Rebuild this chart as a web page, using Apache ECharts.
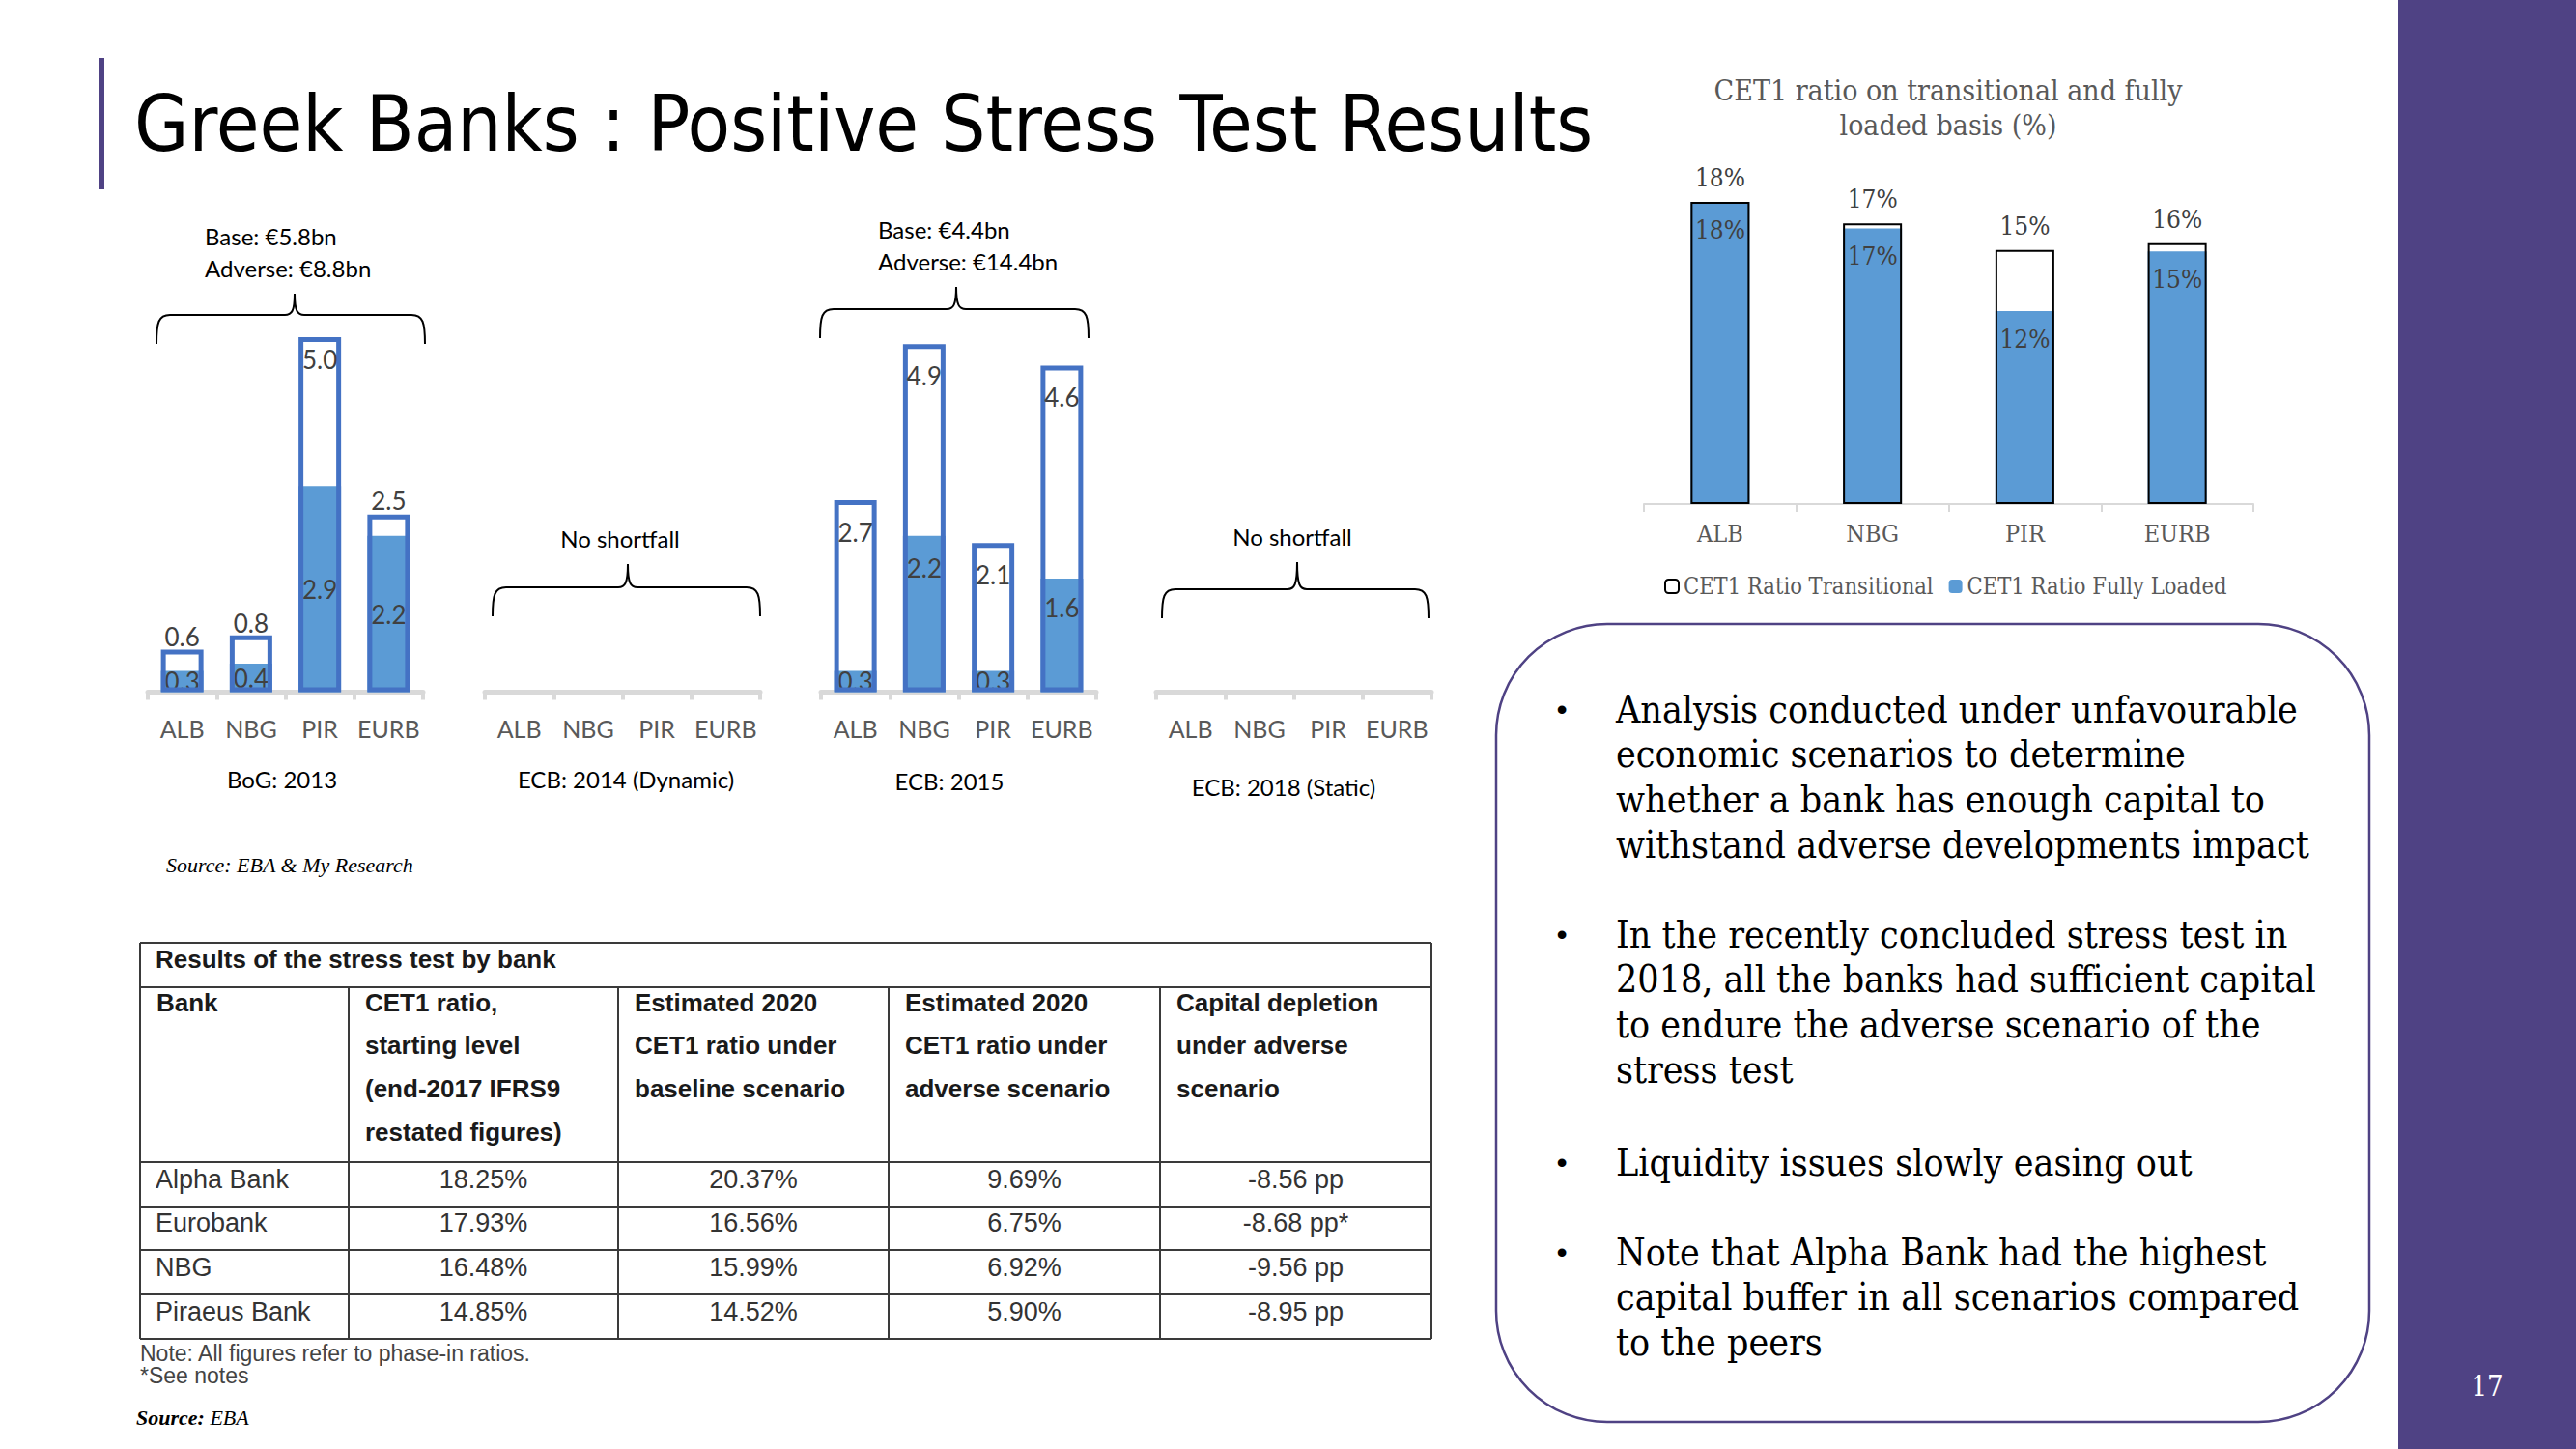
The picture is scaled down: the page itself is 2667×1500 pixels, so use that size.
<!DOCTYPE html>
<html><head><meta charset="utf-8">
<script src="https://cdn.jsdelivr.net/npm/echarts@6/dist/echarts.min.js"></script>
<style>html,body{margin:0;padding:0;background:#fff}#c{width:2667px;height:1500px}</style>
</head><body><div id="c"></div>
<script>
// ---------------- DATA ----------------
const banks = ['ALB', 'NBG', 'PIR', 'EURB'];
const bog2013Base = [0.3, 0.4, 2.9, 2.2];
const bog2013Adverse = [0.6, 0.8, 5.0, 2.5];
const ecb2015Base = [0.3, 2.2, 0.3, 1.6];
const ecb2015Adverse = [2.7, 4.9, 2.1, 4.6];
const panelTitles = ['BoG: 2013', 'ECB: 2014 (Dynamic)', 'ECB: 2015', 'ECB: 2018 (Static)'];
const shortfallNotes = [['Base: €5.8bn', 'Adverse: €8.8bn'], ['No shortfall'], ['Base: €4.4bn', 'Adverse: €14.4bn'], ['No shortfall']];
const cet1Transitional = [18.3, 17.0, 15.4, 15.8];
const cet1FullyLoaded = [18.3, 16.7, 11.7, 15.3];
const cet1Title = ['CET1 ratio on transitional and fully', 'loaded basis (%)'];
const seriesNames = ['CET1 Ratio Transitional', 'CET1 Ratio Fully Loaded'];
const slideTitle = 'Greek Banks : Positive Stress Test Results';
const tableTitle = 'Results of the stress test by bank';
const tableHeaders = [
  ['Bank'],
  ['CET1 ratio,', 'starting level', '(end-2017 IFRS9', 'restated figures)'],
  ['Estimated 2020', 'CET1 ratio under', 'baseline scenario'],
  ['Estimated 2020', 'CET1 ratio under', 'adverse scenario'],
  ['Capital depletion', 'under adverse', 'scenario']
];
const tableBanks = ['Alpha Bank', 'Eurobank', 'NBG', 'Piraeus Bank'];
const cet1Start = ['18.25%', '17.93%', '16.48%', '14.85%'];
const cet1Baseline2020 = ['20.37%', '16.56%', '15.99%', '14.52%'];
const cet1Adverse2020 = ['9.69%', '6.75%', '6.92%', '5.90%'];
const capitalDepletion = ['-8.56 pp', '-8.68 pp*', '-9.56 pp', '-8.95 pp'];
const tableNotes = ['Note: All figures refer to phase-in ratios.', '*See notes'];
const bullets = [
  ['Analysis conducted under unfavourable', 'economic scenarios to determine', 'whether a bank has enough capital to', 'withstand adverse developments impact'],
  ['In the recently concluded stress test in', '2018, all the banks had sufficient capital', 'to endure the adverse scenario of the', 'stress test'],
  ['Liquidity issues slowly easing out'],
  ['Note that Alpha Bank had the highest', 'capital buffer in all scenarios compared', 'to the peers']
];
const pageNumber = '17';

// ---------------- STYLE / LAYOUT ----------------
const F_CAL = "Lato, 'Open Sans', sans-serif";
const F_ROCK = "'DejaVu Serif Condensed', 'DejaVu Serif', serif";
const F_ARIAL = "'Liberation Sans', Arial, sans-serif";
const F_TIMES = "'Liberation Serif', 'Times New Roman', serif";
const F_TITLE = "'Liberation Sans Narrow', 'DejaVu Sans Condensed', 'Liberation Sans', sans-serif";
const PURPLE = '#4f4284';
const BLUE_FILL = '#5b9bd5';
const BLUE_LINE = '#4472c4';
const AXIS_GREY = '#d9d9d9';

const panelLeft = [153, 502, 850, 1197];
const panelWidth = 285;
const panelTop = 275.5, panelHeight = 441;

const chart = echarts.init(document.getElementById('c'), null, {renderer: 'svg', width: 2667, height: 1500});

function txt(text, x, y, o) {
  o = o || {};
  return {
    type: 'text', x: x, y: y, silent: true, z: o.z || 10,
    style: {
      text: text,
      fontSize: o.size || 24,
      fontFamily: o.family || F_CAL,
      fontWeight: o.weight || 'normal',
      fontStyle: o.style || 'normal',
      fill: o.color || '#000',
      align: o.align || 'left', textAlign: o.align || 'left',
      verticalAlign: o.va || 'middle', textVerticalAlign: o.va || 'middle',
      rich: o.rich
    }
  };
}
function line(x1, y1, x2, y2, color, w) {
  return {type: 'line', silent: true, z: 5, shape: {x1, y1, x2, y2}, style: {stroke: color, lineWidth: w}};
}
function curve(x1, y1, c1x, c1y, c2x, c2y, x2, y2) {
  return {type: 'bezierCurve', silent: true, z: 5, shape: {x1, y1, x2, y2, cpx1: c1x, cpy1: c1y, cpx2: c2x, cpy2: c2y}, style: {fill: 'none', stroke: '#000', lineWidth: 2}};
}
function brace(x1, x2, y, yEnd, xm, yTip) {
  return [
    curve(x1, yEnd, x1, y + 8, x1 + 2, y, x1 + 14, y),
    line(x1 + 14, y, xm - 10, y, '#000', 2),
    curve(xm - 10, y, xm - 3, y, xm, y - 4, xm, yTip),
    curve(xm, yTip, xm, y - 4, xm + 3, y, xm + 10, y),
    line(xm + 10, y, x2 - 14, y, '#000', 2),
    curve(x2 - 14, y, x2 - 2, y, x2, y + 8, x2, yEnd)
  ];
}

// ---------------- AXES / GRIDS ----------------
const grids = [], xAxes = [], yAxes = [], series = [];
for (let i = 0; i < 4; i++) {
  grids.push({left: panelLeft[i], top: panelTop, width: panelWidth, height: panelHeight});
  xAxes.push({
    type: 'category', gridIndex: i, data: banks,
    axisLine: {lineStyle: {color: AXIS_GREY, width: 5}},
    axisTick: {show: true, length: 8, lineStyle: {color: AXIS_GREY, width: 4}},
    axisLabel: {interval: 0, color: '#595959', fontSize: 25, fontFamily: F_CAL, margin: 25}
  });
  yAxes.push({type: 'value', gridIndex: i, min: 0, max: 6, show: false, splitLine: {show: false}});
}
// top-right chart
grids.push({left: 1702, top: 180, width: 631, height: 342});
xAxes.push({
  type: 'category', gridIndex: 4, data: banks,
  axisLine: {lineStyle: {color: AXIS_GREY, width: 2}},
  axisTick: {show: true, length: 8, lineStyle: {color: AXIS_GREY, width: 2}},
  axisLabel: {interval: 0, color: '#595959', fontSize: 25, fontFamily: F_ROCK, margin: 18}
});
yAxes.push({type: 'value', gridIndex: 4, min: 0, max: 20, show: false, splitLine: {show: false}});

function panelSeries(idx, base, adverse, basePos, advPos, baseDist, advDist) {
  const lbl = {show: true, fontSize: 26, fontFamily: F_CAL, color: '#404040', formatter: p => Number(p.value).toFixed(1)};
  series.push({
    type: 'bar', xAxisIndex: idx, yAxisIndex: idx, barWidth: 44, barGap: '-100%', z: 2,
    itemStyle: {color: BLUE_FILL},
    label: lbl,
    data: base.map((v, k) => ({value: v, label: {position: basePos[k], distance: baseDist[k]}}))
  });
  series.push({
    type: 'bar', xAxisIndex: idx, yAxisIndex: idx, barWidth: 44, barGap: '-100%', z: 3,
    itemStyle: {color: 'rgba(255,255,255,0)', borderColor: BLUE_LINE, borderWidth: 5},
    label: lbl,
    data: adverse.map((v, k) => ({value: v, label: {position: advPos[k], distance: advDist[k]}}))
  });
}
panelSeries(0, bog2013Base, bog2013Adverse,
  ['inside', 'inside', 'inside', 'inside'], ['top', 'top', 'insideTop', 'top'],
  [0, 0, 0, 0], [0, 0, 10, 2]);
panelSeries(2, ecb2015Base, ecb2015Adverse,
  ['inside', 'insideTop', 'inside', 'insideTop'], ['insideTop', 'insideTop', 'insideTop', 'insideTop'],
  [0, 20, 0, 17], [20, 20, 20, 20]);

series.push({
  name: seriesNames[1], type: 'bar', xAxisIndex: 4, yAxisIndex: 4, barWidth: 61, barGap: '-100%', z: 2,
  itemStyle: {color: BLUE_FILL},
  label: {show: true, position: 'insideTop', distance: 16, fontSize: 26, fontFamily: F_ROCK, color: '#404040', formatter: p => Math.round(p.value) + '%'},
  data: cet1FullyLoaded
});
series.push({
  name: seriesNames[0], type: 'bar', xAxisIndex: 4, yAxisIndex: 4, barWidth: 61, barGap: '-100%', z: 3,
  itemStyle: {color: 'rgba(255,255,255,0)', borderColor: '#000', borderWidth: 2},
  label: {show: true, position: 'top', distance: 12, fontSize: 26, fontFamily: F_ROCK, color: '#404040', formatter: p => Math.round(p.value) + '%'},
  data: cet1Transitional
});

// ---------------- GRAPHICS ----------------
const g = [];
g.push({type: 'rect', silent: true, shape: {x: 2483, y: 0, width: 184, height: 1500}, style: {fill: PURPLE}});
g.push(txt(pageNumber, 2575, 1435, {size: 29, family: F_ROCK, color: '#fff', align: 'center'}));
g.push({type: 'rect', silent: true, shape: {x: 103, y: 60, width: 5, height: 136}, style: {fill: PURPLE}});
g.push(txt(slideTitle, 139, 128, {size: 81, family: F_TITLE, color: '#000'}));

g.push(txt(cet1Title[0], 2017, 93, {size: 30, family: F_ROCK, color: '#595959', align: 'center'}));
g.push(txt(cet1Title[1], 2017, 129, {size: 30, family: F_ROCK, color: '#595959', align: 'center'}));

const panelTitlePos = [[292, 806], [648, 806], [983, 808], [1329, 814]];
panelTitles.forEach((t, i) => g.push(txt(t, panelTitlePos[i][0], panelTitlePos[i][1], {size: 24, align: 'center'})));

g.push(txt(shortfallNotes[0][0], 212, 244, {size: 24}));
g.push(txt(shortfallNotes[0][1], 212, 277, {size: 24}));
g.push(txt(shortfallNotes[1][0], 642, 557, {size: 24, align: 'center'}));
g.push(txt(shortfallNotes[2][0], 909, 237, {size: 24}));
g.push(txt(shortfallNotes[2][1], 909, 270, {size: 24}));
g.push(txt(shortfallNotes[3][0], 1338, 555, {size: 24, align: 'center'}));
g.push(...brace(162, 440, 326, 356, 305, 304));
g.push(...brace(510, 787, 608, 638, 650, 584));
g.push(...brace(849, 1127, 320, 350, 990, 297));
g.push(...brace(1203, 1479, 610, 640, 1343, 582));

g.push(txt('Source: EBA & My Research', 172, 895, {size: 22, family: F_TIMES, style: 'italic'}));

// table
const colX = [145, 361, 640, 920, 1201, 1482];
const rowY = [976, 1022, 1203, 1249, 1294, 1340, 1386];
const TC = '#3a3a3a';
for (let r = 0; r < rowY.length; r++) g.push(line(colX[0], rowY[r], colX[5], rowY[r], TC, 2));
g.push(line(colX[0], rowY[0], colX[0], rowY[6], TC, 2));
g.push(line(colX[5], rowY[0], colX[5], rowY[6], TC, 2));
for (let c = 1; c < 5; c++) g.push(line(colX[c], rowY[1], colX[c], rowY[6], TC, 2));
g.push(txt(tableTitle, 161, 993, {size: 26, family: F_ARIAL, weight: 'bold', color: '#1a1a1a'}));
const headLineY = [1038, 1082, 1127, 1172];
tableHeaders.forEach((lines, c) => lines.forEach((l, k) =>
  g.push(txt(l, colX[c] + 17, headLineY[k], {size: 26, family: F_ARIAL, weight: 'bold', color: '#1a1a1a'}))));
const dataCols = [cet1Start, cet1Baseline2020, cet1Adverse2020, capitalDepletion];
const dataY = [1221, 1266, 1312, 1358];
tableBanks.forEach((b, r) => {
  g.push(txt(b, 161, dataY[r], {size: 27, family: F_ARIAL, color: '#333'}));
  dataCols.forEach((col, c) => g.push(txt(col[r], (colX[c + 1] + colX[c + 2]) / 2, dataY[r], {size: 27, family: F_ARIAL, color: '#333', align: 'center'})));
});
g.push(txt(tableNotes[0], 145, 1401, {size: 23, family: F_ARIAL, color: '#444'}));
g.push(txt(tableNotes[1], 145, 1424, {size: 23, family: F_ARIAL, color: '#444'}));
g.push(txt('{b|Source:} {i|EBA}', 141, 1467, {size: 22, family: F_TIMES, rich: {
  b: {fontSize: 22, fontFamily: F_TIMES, fontWeight: 'bold', fontStyle: 'italic', fill: '#000'},
  i: {fontSize: 22, fontFamily: F_TIMES, fontStyle: 'italic', fill: '#000'}
}}));

// right text box
g.push({type: 'rect', silent: true, z: 1, shape: {x: 1549, y: 646, width: 904, height: 826, r: 115}, style: {fill: '#fff', stroke: PURPLE, lineWidth: 2.5}});
const bulletStartY = [734, 967, 1203, 1296];
const LH = 46.8;
bullets.forEach((lines, b) => {
  g.push(txt('•', 1617, bulletStartY[b], {size: 32, family: F_ARIAL, align: 'center'}));
  lines.forEach((l, k) => g.push(txt(l, 1673, bulletStartY[b] + k * LH, {size: 39, family: F_ROCK, color: '#000'})));
});

chart.setOption({
  animation: false,
  backgroundColor: '#fff',
  grid: grids, xAxis: xAxes, yAxis: yAxes, series: series,
  legend: {
    left: 1718, top: 590, itemWidth: 14, itemHeight: 14, itemGap: 16, selectedMode: false,
    textStyle: {fontSize: 23.5, fontFamily: F_ROCK, color: '#595959'},
    data: [
      {name: seriesNames[0], itemStyle: {color: '#fff', borderColor: '#000', borderWidth: 2}},
      {name: seriesNames[1], itemStyle: {color: BLUE_FILL}}
    ]
  },
  graphic: {elements: g}
});
</script></body></html>
